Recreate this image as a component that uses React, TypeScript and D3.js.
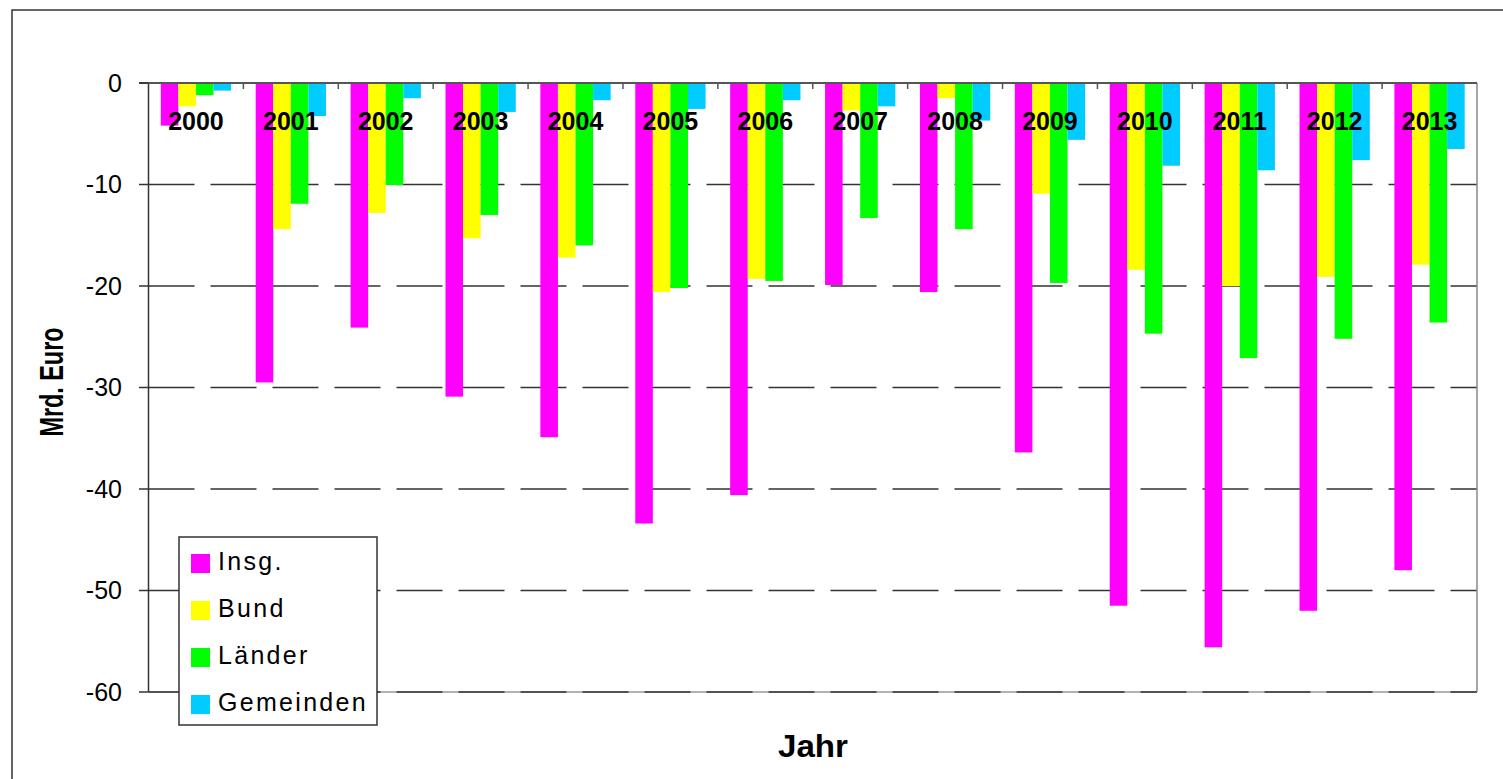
import React from "react";
import * as d3 from "d3";

const years = ["2000","2001","2002","2003","2004","2005","2006","2007","2008","2009","2010","2011","2012","2013"];
const seriesNames = ["Insg.","Bund","Länder","Gemeinden"];
const insg = [-4.2,-29.5,-24.1,-30.9,-34.9,-43.4,-40.6,-19.9,-20.6,-36.4,-51.5,-55.6,-52.0,-48.0];
const bund = [-2.3,-14.4,-12.8,-15.3,-17.2,-20.6,-19.3,-2.7,-1.5,-10.9,-18.4,-20.0,-19.1,-17.9];
const laender = [-1.2,-11.9,-10.05,-13.0,-16.0,-20.2,-19.5,-13.3,-14.4,-19.7,-24.7,-27.1,-25.2,-23.6];
const gemeinden = [-0.75,-3.25,-1.5,-2.85,-1.7,-2.55,-1.7,-2.3,-3.7,-5.6,-8.15,-8.6,-7.6,-6.5];
const yTicks = [0,-10,-20,-30,-40,-50,-60];
const colors = ["#FF00FF","#FFFF00","#00FF00","#00CCFF"];

const seriesValues = [insg, bund, laender, gemeinden];

const FONT = "'Liberation Sans', Arial, Helvetica, sans-serif";

export default function App() {
  const left = 148.5, right = 1477, top = 83, bottom = 692;
  const x0 = d3.scaleBand<string>().domain(years).range([left, right]).padding(0);
  const x1 = d3.scaleBand<string>().domain(seriesNames).range([0, x0.bandwidth()]).paddingInner(0).paddingOuter(0.7);
  const y = d3.scaleLinear().domain([0, -60]).range([top, bottom]);

  return (
    <svg width={1503} height={779} style={{ position: "absolute", left: 0, top: 0, background: "#fff" }} fontFamily={FONT}>
      <rect x={0} y={0} width={1503} height={779} fill="#fff" />
      <rect x={12} y={10} width={1600} height={900} fill="none" stroke="#333" strokeWidth={1.5} />

      {/* gridlines */}
      {yTicks.filter(t => t !== 0).map(t => (
        <g key={"g" + t}>
          {t === -60 && <line x1={left} x2={right} y1={y(t)} y2={y(t)} stroke="#999" strokeWidth={1.5} />}
          <line x1={left} x2={right} y1={y(t)} y2={y(t)} stroke="#333" strokeWidth={1.5} strokeDasharray="46 16" />
        </g>
      ))}

      {/* bars */}
      {years.map((yr, i) => (
        <g key={yr} transform={`translate(${x0(yr)},0)`}>
          {seriesNames.map((s, j) => {
            const v = seriesValues[j][i];
            return (
              <rect key={s} x={x1(s)} y={y(0)} width={x1.bandwidth()} height={y(v) - y(0)} fill={colors[j]} />
            );
          })}
        </g>
      ))}

      {/* axes */}
      <line x1={right} x2={right} y1={top} y2={bottom} stroke="#888" strokeWidth={1.5} />
      <line x1={left} x2={left} y1={top} y2={bottom} stroke="#333" strokeWidth={1.5} />
      <line x1={139} x2={right} y1={y(0)} y2={y(0)} stroke="#555" strokeWidth={2} />
      {yTicks.map(t => (
        <line key={"t" + t} x1={139} x2={left} y1={y(t)} y2={y(t)} stroke="#333" strokeWidth={1.5} />
      ))}
      {years.slice(1).map(yr => (
        <line key={"xt" + yr} x1={x0(yr)} x2={x0(yr)} y1={top} y2={top + 6} stroke="#555" strokeWidth={1.5} />
      ))}

      {/* y tick labels */}
      {yTicks.map(t => (
        <text key={"l" + t} x={122} y={y(t)} dy="0.35em" textAnchor="end" fontSize={25} fill="#000">
          {t}
        </text>
      ))}

      {/* year labels */}
      {years.map(yr => (
        <text key={"yl" + yr} x={(x0(yr) as number) + x0.bandwidth() / 2} y={130} textAnchor="middle" fontSize={25} fontWeight="bold" fill="#000">
          {yr}
        </text>
      ))}

      {/* axis titles */}
      <text transform={`translate(63,382) rotate(-90)`} textAnchor="middle" fontSize={33} fontWeight="bold" textLength={109} lengthAdjust="spacingAndGlyphs">
        Mrd. Euro
      </text>
      <text x={813} y={757} textAnchor="middle" fontSize={31} fontWeight="bold" textLength={70} lengthAdjust="spacingAndGlyphs">
        Jahr
      </text>

      {/* legend */}
      <rect x={179} y={537} width={198} height={188} fill="#fff" stroke="#333" strokeWidth={1.5} />
      {seriesNames.map((s, j) => (
        <g key={"lg" + s} transform={`translate(0,${570 + j * 47})`}>
          <rect x={191} y={-16} width={19} height={19} fill={colors[j]} />
          <text x={218} y={0} fontSize={25} letterSpacing={2.3} fill="#000">{s}</text>
        </g>
      ))}
    </svg>
  );
}
